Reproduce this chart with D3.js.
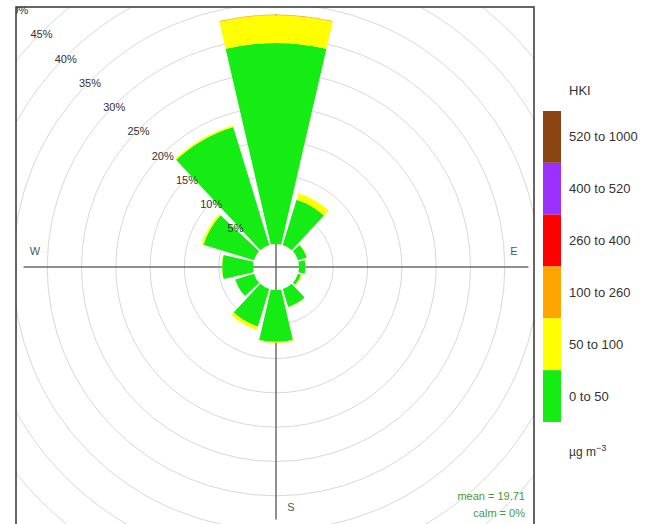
<!DOCTYPE html>
<html><head><meta charset="utf-8">
<script src="https://cdn.jsdelivr.net/npm/d3@7"></script>
<style>body{margin:0;background:#fff}svg{display:block;font-family:"Liberation Sans",Arial,sans-serif}</style>
</head><body>
<svg id="c" width="651" height="524"></svg>
<script>
// ---- data ----
const directions = [0, 30, 60, 90, 120, 150, 180, 210, 240, 270, 300, 330];
const binLabels = ["0 to 50", "50 to 100", "100 to 260", "260 to 400", "400 to 520", "520 to 1000"];
const binColors = ["#14ec14", "#ffff00", "#ffa500", "#ff0000", "#9b30ff", "#8b4513"];
const bin0_50    = [29.3, 6.9, 1.35, 0.95, 0.45, 2.75, 7.55, 5.7, 2.85, 4.5, 7.7, 18.0];
const bin50_100  = [4.05, 1.0, 0.05, 0.05, 0.15, 0.05, 0.15, 0.5, 0.0, 0.05, 0.3, 0.2];
const bin100_260 = [0.1, 0, 0, 0, 0, 0, 0, 0, 0, 0, 0, 0];
const bin260_400 = [0, 0, 0, 0, 0, 0, 0, 0, 0, 0, 0, 0];
const bin400_520 = [0, 0, 0, 0, 0, 0, 0, 0, 0, 0, 0, 0];
const bin520_1000 = [0, 0, 0, 0, 0, 0, 0, 0, 0, 0, 0, 0];
const gridPct = [5, 10, 15, 20, 25, 30, 35, 40, 45, 50, 55, 60];
const pctLabels = [5, 10, 15, 20, 25, 30, 35, 40, 45, 50];
const meanText = "mean = 19.71";
const calmText = "calm = 0%";

const bins = [bin0_50, bin50_100, bin100_260, bin260_400, bin400_520, bin520_1000];

// ---- layout ----
const svg = d3.select("#c");
const cx = 276, cy = 267;
const panel = {x: 16, y: 7, w: 518, h: 530};
const r = d3.scaleLinear().domain([0, 50]).range([23, 23 + 343]);
const halfW = 13 * Math.PI / 180;

svg.append("defs").append("clipPath").attr("id", "pc")
  .append("rect").attr("x", panel.x).attr("y", panel.y).attr("width", panel.w).attr("height", panel.h);

const g = svg.append("g").attr("clip-path", "url(#pc)");
const c = g.append("g").attr("transform", `translate(${cx},${cy})`);

// grid circles
c.selectAll("circle.grid").data(gridPct).join("circle")
  .attr("r", d => r(d)).attr("fill", "none").attr("stroke", "#d8d8d8").attr("stroke-width", 1);

// stacked totals
const stacks = directions.map((d, i) => {
  let acc = 0;
  return bins.map((b, k) => { const s = acc; acc += b[i]; return {dir: d, k, s, e: acc}; });
});
const maxTotal = d3.max(stacks, s => s[s.length - 1].e);
const axR = r(maxTotal);

// axes
c.append("line").attr("x1", -axR).attr("x2", axR).attr("y1", 0).attr("y2", 0).attr("stroke", "#6b6b6b").attr("stroke-width", 1.5);
c.append("line").attr("x1", 0).attr("x2", 0).attr("y1", -axR).attr("y2", axR).attr("stroke", "#6b6b6b").attr("stroke-width", 1.5);

// compass labels
const compass = [["N", -15, -240], ["E", 238, -16], ["S", 15, 240], ["W", -241, -16]];
c.selectAll("text.cmp").data(compass).join("text")
  .attr("x", d => d[1]).attr("y", d => d[2]).attr("text-anchor", "middle").attr("dominant-baseline", "central")
  .attr("font-size", 11).attr("fill", "#555").text(d => d[0]);

// wedges
const arc = d3.arc();
stacks.forEach(stack => {
  stack.filter(p => p.e > p.s).forEach(p => {
    const a = p.dir * Math.PI / 180;
    c.append("path")
      .attr("d", arc({innerRadius: r(p.s), outerRadius: r(p.e), startAngle: a - halfW, endAngle: a + halfW}))
      .attr("fill", binColors[p.k]);
  });
});

// percentage labels
const la = 315 * Math.PI / 180;
c.selectAll("text.pct").data(pctLabels).join("text")
  .attr("x", d => r(d) * Math.sin(la)).attr("y", d => -r(d) * Math.cos(la) + 2)
  .attr("text-anchor", "middle").attr("dominant-baseline", "central")
  .attr("font-size", 11).attr("fill", "#333").text(d => d + "%");

// mean / calm
svg.append("text").attr("x", 525).attr("y", 500).attr("text-anchor", "end").attr("font-size", 11).attr("fill", "#4a9a3a").text(meanText);
svg.append("text").attr("x", 525).attr("y", 517).attr("text-anchor", "end").attr("font-size", 11).attr("fill", "#4a9a3a").text(calmText);

// panel border
svg.append("path").attr("d", `M${panel.x},${panel.y + panel.h} V${panel.y} H${panel.x + panel.w} V${panel.y + panel.h}`)
  .attr("fill", "none").attr("stroke", "#333").attr("stroke-width", 1.5);

// legend
const lg = svg.append("g");
const ly = d3.scaleBand().domain(d3.range(6)).range([111, 422]);
lg.append("text").attr("x", 569).attr("y", 95).attr("font-size", 13).attr("fill", "#333").text("HKI");
const rev = d3.range(6).map(i => 5 - i);
lg.selectAll("rect").data(rev).join("rect")
  .attr("x", 543).attr("y", (d, i) => ly(i)).attr("width", 18).attr("height", ly.bandwidth())
  .attr("fill", d => binColors[d]);
lg.selectAll("text.lab").data(rev).join("text")
  .attr("x", 569).attr("y", (d, i) => ly(i) + ly.bandwidth() / 2).attr("dominant-baseline", "central")
  .attr("font-size", 13).attr("fill", "#333").text(d => binLabels[d]);
const u = lg.append("text").attr("x", 569).attr("y", 456).attr("font-size", 12).attr("fill", "#333");
u.append("tspan").text("µg m");
u.append("tspan").attr("dy", -5).attr("font-size", 9).text("−3");
</script>
</body></html>
